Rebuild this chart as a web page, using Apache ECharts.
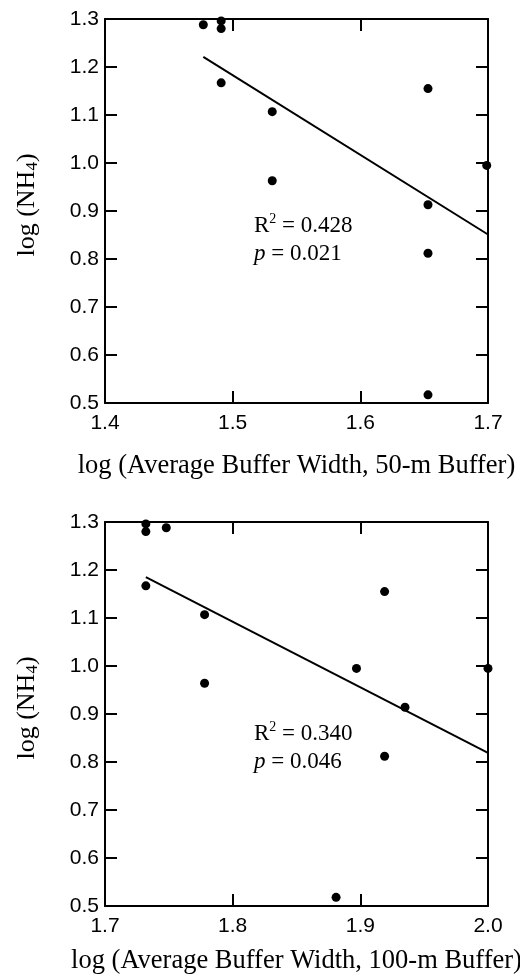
<!DOCTYPE html>
<html><head><meta charset="utf-8">
<script src="https://cdn.jsdelivr.net/npm/echarts@6/dist/echarts.min.js"></script>
<style>html,body{margin:0;padding:0;background:#fff}#c{width:520px;height:976px}</style>
</head><body><div id="c"></div>
<script>
// Panel 1: 50-m buffer
const x50 = [1.477, 1.491, 1.491, 1.491, 1.531, 1.531, 1.653, 1.653, 1.653, 1.653, 1.699];
const y50 = [1.288, 1.296, 1.280, 1.167, 1.107, 0.963, 1.155, 0.913, 0.812, 0.517, 0.995];
const fit50X = [1.477, 1.700];
const fit50Y = [1.221, 0.851];
// Panel 2: 100-m buffer
const x100 = [1.732, 1.732, 1.748, 1.732, 1.778, 1.778, 1.897, 1.919, 1.919, 1.935, 2.000, 1.881];
const y100 = [1.296, 1.280, 1.288, 1.167, 1.107, 0.964, 0.995, 1.155, 0.812, 0.914, 0.995, 0.518];
const fit100X = [1.732, 2.000];
const fit100Y = [1.185, 0.819];
// Axis ranges / ticks
const yRange = [0.5, 1.3];
const x50Range = [1.4, 1.7];
const x100Range = [1.7, 2.0];
const tickStep = 0.1;
const xTitles = ['log (Average Buffer Width, 50-m Buffer)', 'log (Average Buffer Width, 100-m Buffer)'];
const stats = [['0.428', '0.021'], ['0.340', '0.046']];

const sans = 'Liberation Sans';
const serif = 'Liberation Serif';
const black = '#000';
const grids = [
  {left: 105, top: 19, width: 383, height: 384, outerBoundsMode: 'none', containLabel: false},
  {left: 105, top: 522, width: 383, height: 384, outerBoundsMode: 'none', containLabel: false}
];
const xr = [x50Range, x100Range];
const xNameGaps = [50, 42];

const xAxes = [], yAxes = [], series = [];
grids.forEach((g, i) => {
  const lineStyle = {color: black, width: 2};
  xAxes.push({
    gridIndex: i, type: 'value', min: xr[i][0], max: xr[i][1], interval: tickStep,
    position: 'bottom',
    axisLine: {show: true, onZero: false, lineStyle},
    axisTick: {show: true, inside: true, length: 12, lineStyle},
    splitLine: {show: false},
    axisLabel: {color: black, fontFamily: sans, fontSize: 21, margin: 10, formatter: v => v.toFixed(1)},
    name: xTitles[i], nameLocation: 'middle', nameGap: xNameGaps[i],
    nameTextStyle: {color: black, fontFamily: serif, fontSize: 26.5}
  });
  xAxes.push({
    gridIndex: i, type: 'value', min: xr[i][0], max: xr[i][1], interval: tickStep,
    position: 'top',
    axisLine: {show: true, onZero: false, lineStyle},
    axisTick: {show: true, inside: true, length: 12, lineStyle},
    splitLine: {show: false}, axisLabel: {show: false}
  });
  yAxes.push({
    gridIndex: i, type: 'value', min: yRange[0], max: yRange[1], interval: tickStep,
    position: 'left',
    axisLine: {show: true, onZero: false, lineStyle},
    axisTick: {show: true, inside: true, length: 12, lineStyle},
    splitLine: {show: false},
    axisLabel: {color: black, fontFamily: sans, fontSize: 21, margin: 6, formatter: v => v.toFixed(1)},
    name: '{n|log (NH}{s|4}{n|)}', nameLocation: 'middle', nameGap: 64, nameRotate: 90,
    nameTextStyle: {color: black, fontFamily: serif, fontSize: 26, padding: [0, 0, 0, 12],
      rich: {n: {fontFamily: serif, fontSize: 26, color: black},
             s: {fontFamily: serif, fontSize: 17, color: black, verticalAlign: 'bottom', padding: [10, 0, 0, 0]}}}
  });
  yAxes.push({
    gridIndex: i, type: 'value', min: yRange[0], max: yRange[1], interval: tickStep,
    position: 'right',
    axisLine: {show: true, onZero: false, lineStyle},
    axisTick: {show: true, inside: true, length: 12, lineStyle},
    splitLine: {show: false}, axisLabel: {show: false}
  });
});

const pts = [[x50, y50], [x100, y100]];
const fits = [[fit50X, fit50Y], [fit100X, fit100Y]];
[0, 1].forEach(i => {
  series.push({
    type: 'line', xAxisIndex: 2 * i, yAxisIndex: 2 * i,
    data: fits[i][0].map((x, k) => [x, fits[i][1][k]]),
    symbol: 'none', lineStyle: {color: black, width: 2}, silent: true, z: 3
  });
  series.push({
    type: 'scatter', xAxisIndex: 2 * i, yAxisIndex: 2 * i,
    data: pts[i][0].map((x, k) => [x, pts[i][1][k]]),
    symbol: 'circle', symbolSize: 9, itemStyle: {color: black, opacity: 1}, clip: false, z: 4
  });
});

const rich = {
  r: {fontFamily: serif, fontSize: 23, color: black},
  sup: {fontFamily: serif, fontSize: 14, color: black, verticalAlign: 'top', padding: [0, 0, 10, 0]},
  p: {fontFamily: serif, fontSize: 23, color: black, fontStyle: 'italic'}
};
const annY = [212, 720];
const graphic = stats.map((s, i) => ({
  type: 'text', left: 254, top: annY[i],
  style: {
    text: '{r|R}{sup|2}{r| = ' + s[0] + '}\n{p|p}{r| = ' + s[1] + '}',
    rich, lineHeight: 28
  }
}));

const chart = echarts.init(document.getElementById('c'), null, {renderer: 'canvas'});
chart.setOption({
  animation: false,
  backgroundColor: '#fff',
  grid: grids,
  xAxis: xAxes,
  yAxis: yAxes,
  series,
  graphic
});
</script></body></html>
